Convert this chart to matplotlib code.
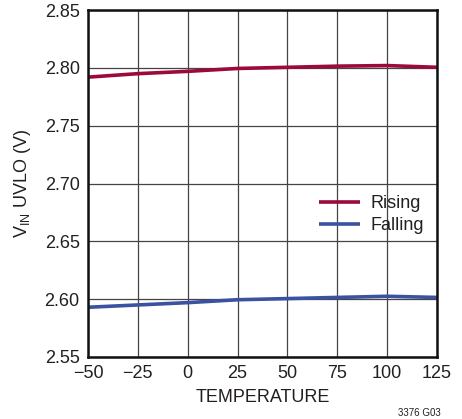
import matplotlib
matplotlib.use("Agg")
import matplotlib.pyplot as plt

# ── Data ──────────────────────────────────────────────────────────────────────
temperature = [-50, -25, 0, 25, 50, 75, 100, 125]
rising = [2.792, 2.795, 2.797, 2.7995, 2.8005, 2.8015, 2.802, 2.8005]
falling = [2.593, 2.595, 2.597, 2.5995, 2.6005, 2.6015, 2.6025, 2.6015]

x_ticks = [-50, -25, 0, 25, 50, 75, 100, 125]
x_labels = ["\u221250", "\u221225", "0", "25", "50", "75", "100", "125"]
y_ticks = [2.55, 2.60, 2.65, 2.70, 2.75, 2.80, 2.85]

plt.rcParams["font.family"] = ["Liberation Sans Narrow", "Liberation Sans", "DejaVu Sans"]

fig = plt.figure(figsize=(4.62, 4.19), dpi=100)
ax = fig.add_axes([0.1905, 0.148, 0.7555, 0.828])

ax.plot(temperature, rising, color="#9b0a3a", lw=2.6, label="Rising", solid_capstyle="butt")
ax.plot(temperature, falling, color="#3a52a0", lw=2.6, label="Falling", solid_capstyle="butt")

ax.set_xlim(-50, 125)
ax.set_ylim(2.55, 2.85)
ax.set_xticks(x_ticks)
ax.set_xticklabels(x_labels)
ax.set_yticks(y_ticks)
ax.set_yticklabels([f"{v:.2f}" for v in y_ticks])
ax.tick_params(length=0, labelsize=13, colors="#231f20", pad=6)
ax.grid(True, color="#444444", lw=0.9)
ax.set_axisbelow(True)
for s in ax.spines.values():
    s.set_linewidth(1.8)
    s.set_color("#111111")

ax.set_xlabel("TEMPERATURE", fontsize=13, color="#231f20", labelpad=5)
ax.set_ylabel("V$_{\\mathregular{IN}}$ UVLO (V)", fontsize=13, color="#231f20", labelpad=8)

leg = ax.legend(loc="center right", bbox_to_anchor=(1.0, 0.41), frameon=False,
                fontsize=13, handlelength=2.3, handletextpad=0.6, labelspacing=0.25,
                borderaxespad=0.3, labelcolor="#231f20")

fig.text(0.955, 0.003, "3376 G03", fontsize=7, ha="right", va="bottom", color="#231f20")

fig.savefig("out.png", dpi=100)
